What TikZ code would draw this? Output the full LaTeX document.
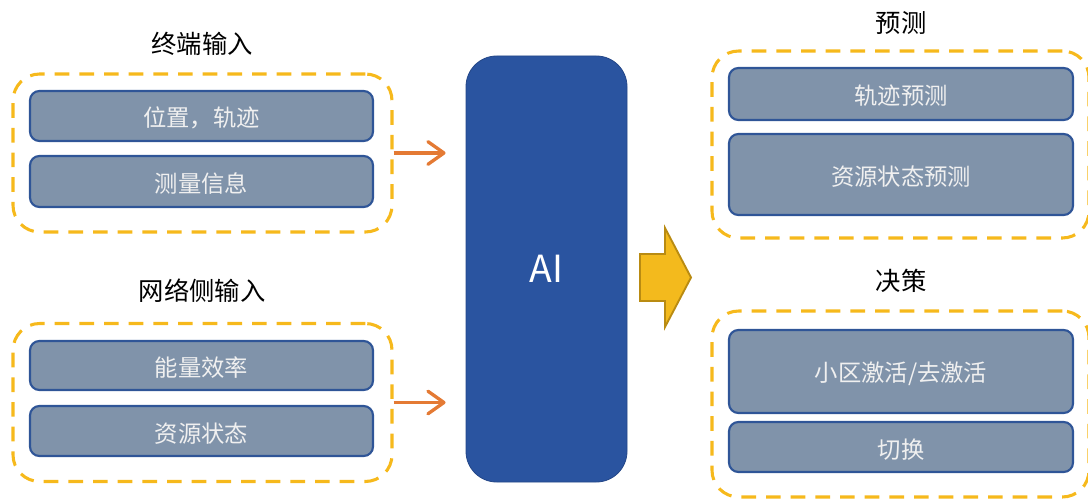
\documentclass[tikz,border=0pt]{standalone}
\usepackage{fontspec}
\setmainfont{Noto Sans CJK SC}
\usetikzlibrary{arrows.meta}
\definecolor{boxfill}{HTML}{8093AA}
\definecolor{boxline}{HTML}{2F5597}
\definecolor{dashyel}{HTML}{F6B91C}
\definecolor{aiblue}{HTML}{2A54A0}
\definecolor{arrorange}{HTML}{E47A34}
\definecolor{bigfill}{HTML}{F3BA1D}
\definecolor{bigline}{HTML}{B98B12}
% lower the glyphs a little while keeping the node's own size
\newcommand\boxtext[1]{\raisebox{-1.6pt}[\height][\depth]{#1}}
\tikzset{
  inbox/.style={draw=boxline, line width=1.6pt, fill=boxfill, rounded corners=7pt,
    text=white!94!black, font=\fontsize{17.5}{20}\selectfont, inner sep=0pt},
  group/.style={draw=dashyel, line width=2.3pt, rounded corners=20pt,
    dash pattern=on 11pt off 7.5pt, inner sep=0pt},
  title/.style={font=\fontsize{19}{22}\selectfont, text=black},
  feed/.style={draw=arrorange, line width=2.5pt, shorten >=15pt,
    -{Straight Barb[length=12pt,width=17pt,line width=2.5pt,round]}},
}
\begin{document}
\begin{tikzpicture}[x=0.75pt, y=-0.75pt]
\useasboundingbox (0,0) rectangle (1088,499);

% input groups
\node[group, minimum width=284.25pt, minimum height=118.5pt] (lt) at (202.5,153) {};
\node[group, minimum width=284.25pt, minimum height=118.5pt] (lb) at (202.5,402.5) {};
\node[title] (tlt) at (202,42) {\boxtext{终端输入}};
\node[title] (tlb) at (202,289) {\boxtext{网络侧输入}};

\node[inbox, minimum width=257.25pt, minimum height=37.5pt] (pos) at (201.5,116) {\boxtext{位置，轨迹}};
\node[inbox, minimum width=257.25pt, minimum height=38.25pt] (meas) at (201.5,181.5) {\boxtext{测量信息}};
\node[inbox, minimum width=257.25pt, minimum height=36.75pt] (eff) at (201.5,365.5) {\boxtext{能量效率}};
\node[inbox, minimum width=257.25pt, minimum height=37.5pt] (res) at (201.5,431) {\boxtext{资源状态}};

% AI engine
\node[fill=aiblue, draw=aiblue!85!black, line width=0.6pt, rounded corners=23pt,
  minimum width=120.75pt, minimum height=319.5pt, text=white,
  font=\fontsize{28}{32}\selectfont] (ai) at (546.5,269) {AI};

\draw[feed] (lt.east) -- (lt.east -| ai.west);
\draw[feed] (lb.east) -- (lb.east -| ai.west);

% output block arrow
\coordinate (bo) at (640,277.5);
\draw[fill=bigfill, draw=bigline, line width=1.4pt, line join=miter]
  (bo) ++(0,-23.5) -- ++(25,0) -- ++(0,-26) -- ++(26,49.5) -- ++(-26,49.5)
  -- ++(0,-26) -- ++(-25,0) -- cycle;

% output groups
\node[group, minimum width=282.75pt, minimum height=140.25pt] (rt) at (900.5,144.5) {};
\node[group, minimum width=282.75pt, minimum height=139.5pt] (rb) at (900.5,404) {};
\node[title] (trt) at (901,21) {\boxtext{预测}};
\node[title] (trb) at (901,279) {\boxtext{决策}};

\node[inbox, minimum width=258pt, minimum height=39pt] (trk) at (901,94) {\boxtext{轨迹预测}};
\node[inbox, minimum width=258pt, minimum height=60.75pt] (rsp) at (901,174.5) {\boxtext{资源状态预测}};
\node[inbox, minimum width=258pt, minimum height=62.25pt] (cell) at (901,371.5) {\boxtext{小区激活/去激活}};
\node[inbox, minimum width=258pt, minimum height=37.5pt] (ho) at (901,447) {\boxtext{切换}};
\end{tikzpicture}
\end{document}
